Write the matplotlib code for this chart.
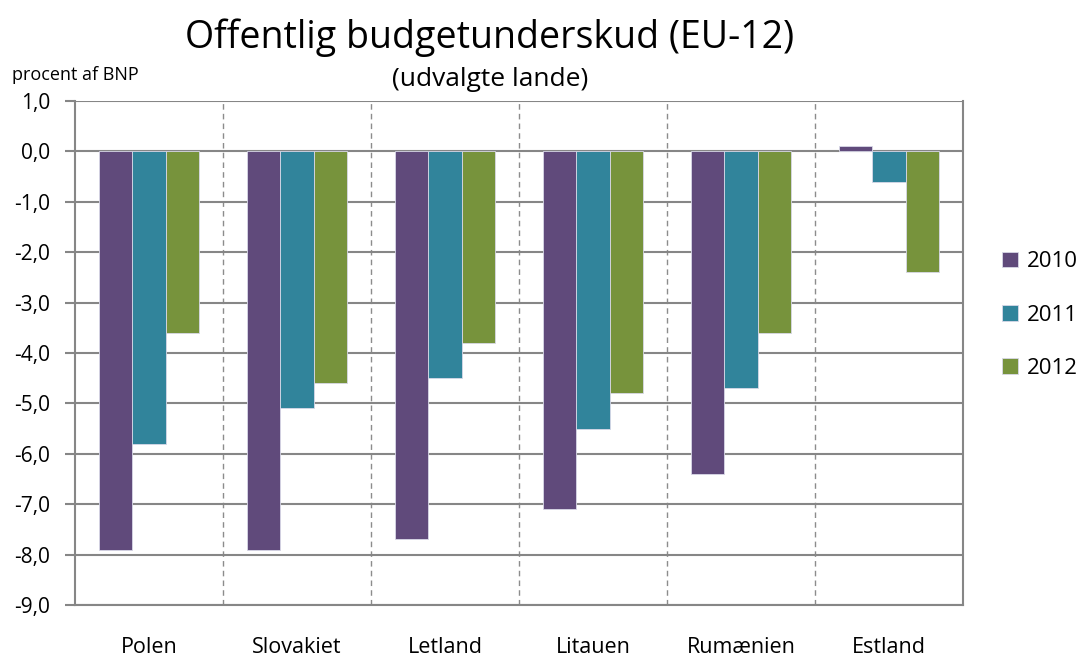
import matplotlib
matplotlib.use("Agg")
import matplotlib.pyplot as plt
import numpy as np

countries = ["Polen", "Slovakiet", "Letland", "Litauen", "Rumænien", "Estland"]
years = ["2010", "2011", "2012"]
v2010 = [-7.9, -7.9, -7.7, -7.1, -6.4, 0.1]
v2011 = [-5.8, -5.1, -4.5, -5.5, -4.7, -0.6]
v2012 = [-3.6, -4.6, -3.8, -4.8, -3.6, -2.4]
yticks = [1.0, 0.0, -1.0, -2.0, -3.0, -4.0, -5.0, -6.0, -7.0, -8.0, -9.0]

colors = ["#604A7B", "#31849B", "#77933C"]
plt.rcParams['font.family'] = ['Open Sans', 'DejaVu Sans']

fig = plt.figure(figsize=(10.81, 6.59), dpi=100)
ax = fig.add_axes([75/1081, 1-605/659, (963-75)/1081, (605-101)/659])

x = np.arange(len(countries))
w = 0.223
for i, (vals, c, lab) in enumerate(zip([v2010, v2011, v2012], colors, years)):
    ax.bar(x + (i-1)*w, vals, width=w, color=c, edgecolor="#d8d8e8", linewidth=0.6,
           label=lab, zorder=3)

ax.set_xlim(-0.5, len(countries)-0.5)
ax.set_ylim(-9.0, 1.0)
ax.set_yticks(yticks)
ax.set_yticklabels([f"{t:.1f}".replace(".", ",") for t in yticks], fontsize=15)
ax.set_xticks(x)
ax.set_xticklabels(countries, fontsize=15.5)
ax.tick_params(axis='x', length=0, pad=23)
ax.tick_params(axis='y', length=7, width=1.5, color="#868686", direction='out', pad=11)

ax.grid(axis='y', color="#868686", linewidth=1.5, zorder=0)
for b in np.arange(0.5, len(countries)-0.5, 1):
    ax.axvline(b, color="#8c8c8c", linestyle=(0, (4, 3)), linewidth=1.0, zorder=1)
for s in ['left', 'right', 'bottom', 'top']:
    ax.spines[s].set_color("#868686")
    ax.spines[s].set_linewidth(1.5)
ax.spines['top'].set_visible(False)

fig.text(490/1081, 1-38/659, "Offentlig budgetunderskud (EU-12)", ha='center', va='center', fontsize=27)
fig.text(490/1081, 1-79/659, "(udvalgte lande)", ha='center', va='center', fontsize=19)
fig.text(12/1081, 1-75/659, "procent af BNP", ha='left', va='center', fontsize=13)

leg = ax.legend(loc='center left', frameon=False, fontsize=16, handlelength=0.7,
                handleheight=0.7, labelspacing=1.45, handletextpad=0.4, borderpad=0,
                borderaxespad=0)
leg.set_bbox_to_anchor((1002/1081, 1-315/659), transform=fig.transFigure)

fig.savefig("out.png", dpi=100)
